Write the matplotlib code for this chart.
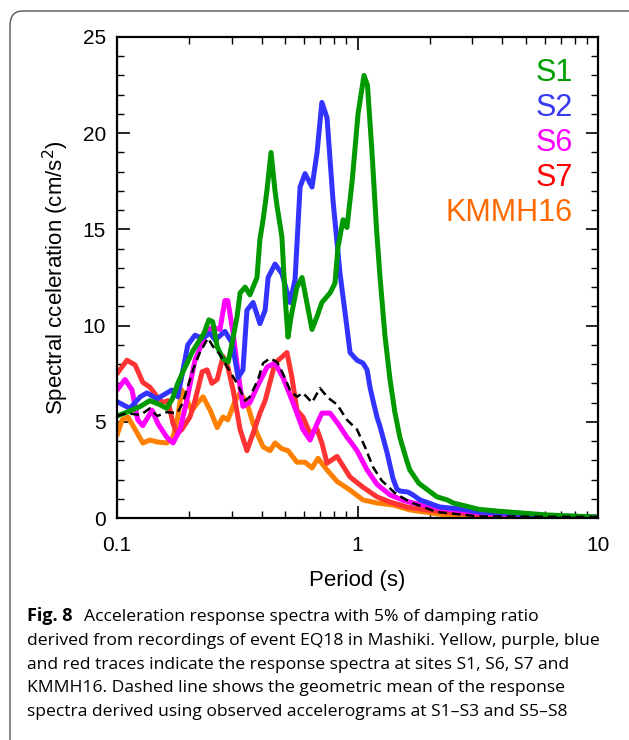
import numpy as np
import matplotlib.pyplot as plt
from matplotlib.patches import FancyBboxPatch

# response spectra: period (s) and Sa (cm/s^2)
s1_period = [0.1, 0.11, 0.125, 0.137, 0.15, 0.161, 0.17, 0.179, 0.188, 0.207, 0.23, 0.241, 0.25,
             0.261, 0.275, 0.29, 0.30, 0.316, 0.325, 0.341, 0.357, 0.368, 0.382, 0.393, 0.405, 0.42,
             0.437, 0.454, 0.463, 0.485, 0.50, 0.514, 0.53, 0.56, 0.588, 0.62, 0.647, 0.68, 0.711,
             0.769, 0.806, 0.83, 0.871, 0.904, 0.95, 1.005, 1.064, 1.10, 1.149, 1.2, 1.241, 1.3,
             1.365, 1.43, 1.5, 1.6, 1.65, 1.8, 2.14, 2.36, 2.5, 3.2, 3.8, 6.1, 10.0]
s1_sa = [5.3, 5.5, 5.8, 6.1, 5.9, 5.7, 6.2, 7.0, 7.6, 8.7, 9.6, 10.3, 10.2,
         8.9, 8.3, 8.1, 9.0, 10.5, 11.7, 12.0, 11.6, 12.0, 12.5, 14.5, 15.5, 17.0,
         19.0, 17.0, 16.2, 14.6, 11.5, 9.4, 10.5, 12.0, 12.5, 11.0, 9.8, 10.5, 11.2,
         11.7, 12.2, 14.1, 15.5, 15.1, 17.5, 21.0, 23.0, 22.5, 19.0, 15.0, 12.5, 9.5,
         7.2, 5.5, 4.2, 3.0, 2.5, 1.8, 1.1, 0.94, 0.78, 0.45, 0.36, 0.16, 0.05]

s2_period = [0.1, 0.113, 0.125, 0.133, 0.147, 0.169, 0.179, 0.197, 0.211, 0.226, 0.244, 0.256,
             0.281, 0.301, 0.319, 0.334, 0.347, 0.368, 0.393, 0.413, 0.425, 0.454, 0.485, 0.524,
             0.55, 0.577, 0.605, 0.647, 0.679, 0.711, 0.747, 0.791, 0.846, 0.904, 0.931, 0.995,
             1.054, 1.096, 1.127, 1.16, 1.205, 1.241, 1.327, 1.405, 1.459, 1.503, 1.62, 1.7,
             1.82, 2.2, 2.67, 3.23, 6.14, 10.0]
s2_sa = [6.05, 5.7, 6.3, 6.5, 6.2, 6.65, 6.3, 9.0, 9.5, 9.35, 9.6, 9.25,
         9.7, 9.1, 7.3, 7.7, 10.8, 11.2, 10.1, 10.8, 12.5, 13.2, 12.7, 11.2,
         12.4, 17.2, 17.9, 17.2, 19.0, 21.6, 20.8, 16.5, 12.7, 9.9, 8.6, 8.2,
         8.05, 7.7, 6.8, 6.1, 5.25, 4.75, 3.4, 2.05, 1.5, 1.4, 1.35, 1.2,
         0.94, 0.57, 0.47, 0.31, 0.12, 0.04]

s6_period = [0.1, 0.108, 0.1155, 0.122, 0.128, 0.14, 0.148, 0.161, 0.171, 0.183, 0.195, 0.211,
             0.226, 0.239, 0.251, 0.268, 0.281, 0.289, 0.304, 0.319, 0.334, 0.357, 0.382, 0.421,
             0.454, 0.49, 0.539, 0.593, 0.635, 0.679, 0.711, 0.769, 0.83, 0.904, 0.931, 0.995,
             1.096, 1.205, 1.365, 1.546, 1.7, 2.2, 3.2, 6.0, 10.0]
s6_sa = [6.65, 7.2, 6.65, 5.1, 4.8, 5.6, 4.9, 4.2, 3.9, 4.6, 6.1, 8.2,
         9.1, 9.8, 9.9, 9.8, 11.3, 11.3, 9.6, 7.5, 5.8, 6.0, 6.8, 7.85,
         8.05, 7.3, 6.0, 4.6, 4.05, 4.9, 5.45, 5.45, 4.9, 4.2, 4.0, 3.5,
         2.5, 1.75, 1.2, 0.92, 0.78, 0.5, 0.25, 0.1, 0.04]

s7_period = [0.1, 0.11, 0.119, 0.128, 0.137, 0.147, 0.155, 0.163, 0.171, 0.178, 0.186, 0.201,
             0.211, 0.226, 0.237, 0.248, 0.261, 0.276, 0.289, 0.304, 0.325, 0.347, 0.368, 0.393,
             0.413, 0.454, 0.509, 0.534, 0.56, 0.593, 0.635, 0.679, 0.711, 0.747, 0.822, 0.931,
             1.054, 1.205, 1.365, 1.606, 2.0, 3.0, 6.0, 10.0]
s7_sa = [7.5, 8.2, 7.95, 7.05, 6.8, 6.3, 6.0, 6.1, 4.9, 4.4, 4.6, 5.25,
         6.1, 7.6, 7.7, 7.0, 7.2, 8.4, 7.85, 6.65, 4.6, 3.5, 4.4, 5.45,
         6.1, 8.05, 8.6, 7.3, 5.6, 5.25, 4.4, 4.6, 3.9, 2.85, 3.2, 2.13,
         1.6, 1.1, 0.83, 0.57, 0.4, 0.2, 0.08, 0.03]

kmmh_period = [0.1, 0.105, 0.111, 0.119, 0.128, 0.137, 0.147, 0.161, 0.171, 0.179, 0.186, 0.195,
               0.205, 0.217, 0.228, 0.244, 0.261, 0.276, 0.289, 0.31, 0.325, 0.347, 0.368, 0.382,
               0.405, 0.433, 0.454, 0.485, 0.514, 0.56, 0.605, 0.647, 0.685, 0.747, 0.822, 0.931,
               1.054, 1.205, 1.405, 1.652, 2.2, 3.0, 5.0, 10.0]
kmmh_sa = [4.3, 5.1, 5.25, 4.6, 3.9, 4.05, 3.95, 3.9, 4.2, 5.25, 6.65, 6.1,
           5.6, 6.0, 6.3, 5.6, 4.7, 5.25, 5.1, 6.1, 6.5, 6.0, 4.9, 4.4,
           3.7, 3.5, 3.9, 3.6, 3.5, 2.9, 2.9, 2.6, 3.1, 2.5, 1.9, 1.45,
           0.94, 0.78, 0.68, 0.42, 0.2, 0.08, 0.03, 0.02]

mean_period = [0.1, 0.11, 0.125, 0.137, 0.147, 0.161, 0.178, 0.188, 0.207, 0.221, 0.239, 0.251,
               0.268, 0.287, 0.316, 0.341, 0.357, 0.386, 0.405, 0.433, 0.463, 0.49, 0.524, 0.56,
               0.593, 0.647, 0.698, 0.754, 0.822, 0.904, 0.995, 1.074, 1.16, 1.26, 1.43, 1.65,
               2.14, 3.23, 10.0]
mean_sa = [5.3, 5.45, 5.35, 5.7, 5.3, 5.5, 5.45, 6.0, 7.7, 8.6, 9.35, 8.9,
           8.5, 7.85, 7.0, 6.1, 6.3, 7.2, 8.05, 8.3, 8.1, 7.5, 6.65, 6.3,
           6.5, 6.0, 6.75, 6.25, 5.9, 5.1, 4.6, 3.7, 2.65, 1.95, 1.3, 0.83,
           0.31, 0.08, 0.05]

labels = ['S1', 'S2', 'S6', 'S7', 'KMMH16']
line_colors = ['#009900', '#3333ff', '#ff00ff', '#ff3333', '#ff8000']
text_colors = ['#00a000', '#3a3af0', '#ff00ff', '#ff0000', '#ff6a00']

caption = ["derived from recordings of event EQ18 in Mashiki. Yellow, purple, blue",
           "and red traces indicate the response spectra at sites S1, S6, S7 and",
           "KMMH16. Dashed line shows the geometric mean of the response",
           "spectra derived using observed accelerograms at S1\u2013S3 and S5\u2013S8"]

plt.rcParams['font.family'] = ['Liberation Sans', 'DejaVu Sans']

fig = plt.figure(figsize=(6.29, 7.40), dpi=100)

# rounded frame around the figure panel (bottom open, runs off the page)
frame = FancyBboxPatch((10 / 629, -0.05), 640 / 629, 1.05 - 11 / 740,
                       boxstyle="round,pad=0,rounding_size=0.02",
                       transform=fig.transFigure, fill=False,
                       edgecolor='#555555', linewidth=1.0)
fig.patches.append(frame)

ax = fig.add_axes([117 / 629, 1 - 518 / 740, 481 / 629, 481 / 740])

series = [(s1_period, s1_sa), (s2_period, s2_sa), (s6_period, s6_sa),
          (s7_period, s7_sa), (kmmh_period, kmmh_sa)]
for (p, sa), c in zip(series[::-1], line_colors[::-1]):
    ax.plot(p, sa, color=c, lw=3.6, solid_joinstyle='round', solid_capstyle='round')
ax.plot(mean_period, mean_sa, color='black', lw=1.8, ls=(0, (3.5, 2)))

ax.set_xscale('log')
ax.set_xlim(0.1, 10)
ax.set_ylim(0, 25)
ax.set_yticks(range(0, 26, 5))
ax.set_yticks(range(0, 26), minor=True)
ax.set_xticks([0.1, 1, 10])
ax.set_xticklabels(['0.1', '1', '10'])
ax.tick_params(which='both', direction='in', top=True, right=True, labelsize=15)
ax.tick_params(which='major', length=9, width=1.2, pad=8)
ax.tick_params(axis='x', which='major', pad=13)
ax.tick_params(which='minor', length=5, width=1.0)
for s in ax.spines.values():
    s.set_linewidth(1.6)

ax.set_xlabel('Period (s)', fontsize=16, labelpad=11)
ax.set_ylabel('Spectral cceleration (cm/s$^2$)', fontsize=16, labelpad=8)

for i, (lab, c) in enumerate(zip(labels, text_colors)):
    ax.text(0.948, 0.925 - i * 0.0728, lab, color=c, fontsize=22,
            ha='right', va='center', transform=ax.transAxes)

# caption
cap_font = ['Open Sans', 'DejaVu Sans']
cap_size = 12.6
t = fig.text(27 / 629, 1 - 621 / 740, 'Fig. 8', fontsize=13, fontweight='bold',
             family=cap_font, va='baseline', ha='left')
fig.canvas.draw()
bb = t.get_window_extent()
fig.text((bb.x1 + 12) / 629, 1 - 621 / 740,
         'Acceleration response spectra with 5% of damping ratio',
         fontsize=cap_size, family=cap_font, va='baseline', ha='left')
for i, line in enumerate(caption):
    fig.text(27 / 629, 1 - (645 + 23.7 * i) / 740, line, fontsize=cap_size,
             family=cap_font, va='baseline', ha='left')

fig.savefig('out.png', dpi=100)
